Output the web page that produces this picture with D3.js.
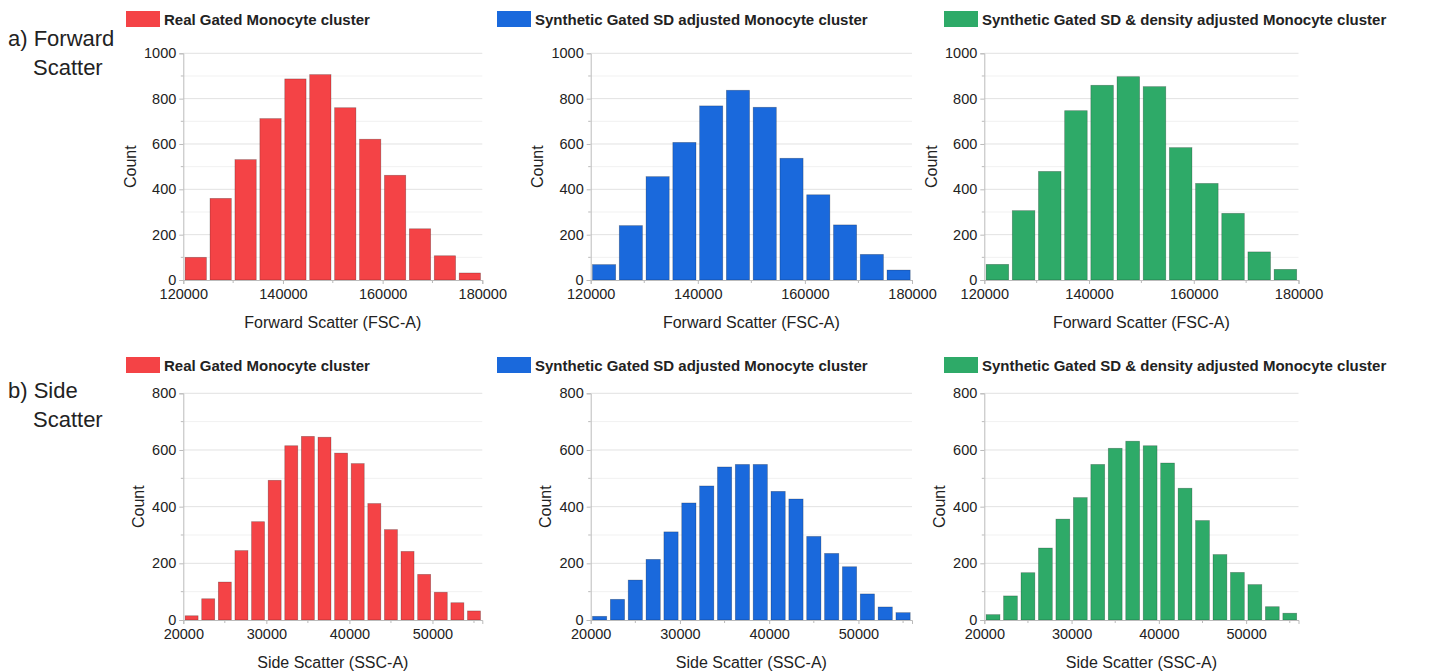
<!DOCTYPE html>
<html>
<head>
<meta charset="utf-8">
<script src="https://cdn.jsdelivr.net/npm/d3@7"></script>
<style>
  body { margin: 0; background: #fff; }
  svg text { font-family: "Liberation Sans", Arial, sans-serif; fill: #222; }
</style>
</head>
<body>
<div id="chart"></div>
<script>
// bin edges for the two measurements
var fscEdges = [120000, 125000, 130000, 135000, 140000, 145000, 150000, 155000, 160000, 165000, 170000, 175000, 180000];
var sscEdges = [20000, 22000, 24000, 26000, 28000, 30000, 32000, 34000, 36000, 38000, 40000, 42000, 44000, 46000, 48000, 50000, 52000, 54000, 56000];

var fscTicks = [120000, 140000, 160000, 180000];
var sscTicks = [20000, 30000, 40000, 50000];

// counts
var fscReal = [100, 360, 531, 712, 887, 906, 760, 621, 462, 226, 107, 31];
var fscSD = [68, 240, 456, 607, 768, 837, 762, 537, 376, 243, 113, 44];
var fscDensity = [69, 306, 479, 747, 859, 897, 853, 584, 426, 294, 124, 47];

var sscReal = [15, 75, 134, 245, 347, 493, 615, 648, 645, 589, 552, 411, 319, 242, 161, 98, 61, 32];
var sscSD = [13, 73, 141, 214, 311, 413, 473, 540, 549, 549, 454, 427, 295, 235, 188, 92, 46, 26];
var sscDensity = [19, 85, 167, 254, 356, 432, 549, 606, 631, 615, 554, 465, 351, 231, 168, 125, 47, 24];

var seriesNames = ["Real Gated Monocyte cluster", "Synthetic Gated SD adjusted Monocyte cluster", "Synthetic Gated SD & density adjusted Monocyte cluster"];
var seriesColors = ["#F44346", "#1A69DC", "#2EAA68"];

var svg = d3.select("#chart").append("svg")
  .attr("width", 1434)
  .attr("height", 671);

// panel columns (axis start / end) and rows
var cols = [[183.3, 482.3], [590.7, 912], [984.3, 1298.5]];
var rows = [
  { top: 53.3, bottom: 280, legendY: 11, yMax: 1000, yStep: 200, edges: fscEdges, ticks: fscTicks,
    title: "Forward Scatter (FSC-A)", data: [fscReal, fscSD, fscDensity], countOff: 53 },
  { top: 393.3, bottom: 620, legendY: 357, yMax: 800, yStep: 200, edges: sscEdges, ticks: sscTicks,
    title: "Side Scatter (SSC-A)", data: [sscReal, sscSD, sscDensity], countOff: 45 }
];

// row labels on the left
var rowLabels = [["a) Forward", "Scatter", 8, 46, 75], ["b) Side", "Scatter", 8, 398, 427]];
rowLabels.forEach(function(r) {
  svg.append("text").attr("x", r[2]).attr("y", r[3]).attr("font-size", "22px").text(r[0]);
  svg.append("text").attr("x", r[2] + 25).attr("y", r[4]).attr("font-size", "22px").text(r[1]);
});

rows.forEach(function(row) {
  cols.forEach(function(col, ci) {
    var edges = row.edges;
    var counts = row.data[ci];
    var x = d3.scaleLinear().domain([edges[0], edges[edges.length - 1]]).range(col);
    var y = d3.scaleLinear().domain([0, row.yMax]).range([row.bottom, row.top]);

    var g = svg.append("g");

    // legend
    g.append("rect")
      .attr("x", [126, 497, 944][ci])
      .attr("y", row.legendY)
      .attr("width", 34)
      .attr("height", 16)
      .attr("fill", seriesColors[ci]);
    g.append("text")
      .attr("x", [126, 497, 944][ci] + 38)
      .attr("y", row.legendY + 13.5)
      .attr("font-size", "15px")
      .attr("font-weight", "bold")
      .text(seriesNames[ci]);

    // gridlines, minor then major
    var minor = d3.range(row.yStep / 2, row.yMax, row.yStep);
    var major = d3.range(row.yStep, row.yMax + 1, row.yStep);
    g.selectAll(".minor").data(minor).enter().append("line")
      .attr("x1", col[0]).attr("x2", col[1])
      .attr("y1", d => y(d)).attr("y2", d => y(d))
      .attr("stroke", "#f1f1f1");
    g.selectAll(".major").data(major).enter().append("line")
      .attr("x1", col[0]).attr("x2", col[1])
      .attr("y1", d => y(d)).attr("y2", d => y(d))
      .attr("stroke", "#e2e2e2");

    // bars
    var bins = counts.map(function(c, i) { return { x0: edges[i], x1: edges[i + 1], count: c }; });
    g.selectAll(".bar").data(bins).enter().append("rect")
      .attr("x", d => x(d.x0) + 1.8)
      .attr("width", d => x(d.x1) - x(d.x0) - 3.6)
      .attr("y", d => y(d.count))
      .attr("height", d => y(0) - y(d.count))
      .attr("fill", seriesColors[ci])
      .attr("stroke", "rgba(0,0,0,0.3)")
      .attr("stroke-width", 0.7);

    // y axis
    var yAxis = g.append("g")
      .attr("transform", `translate(${col[0]},0)`)
      .call(d3.axisLeft(y).tickValues(d3.range(0, row.yMax + 1, row.yStep)).tickSize(4).tickPadding(3).tickFormat(d3.format("d")));
    yAxis.attr("font-family", null);
    yAxis.select(".domain").attr("stroke", "#bbb");
    yAxis.selectAll(".tick line").attr("stroke", "#bbb");
    yAxis.selectAll("text").attr("font-size", "14.5px").attr("fill", "#222");
    g.selectAll(".ymin").data(minor).enter().append("line")
      .attr("x1", col[0] - 2.5).attr("x2", col[0])
      .attr("y1", d => y(d)).attr("y2", d => y(d))
      .attr("stroke", "#bbb");

    // x axis
    var xAxis = g.append("g")
      .attr("transform", `translate(0,${row.bottom})`)
      .call(d3.axisBottom(x).tickValues(row.ticks).tickSize(4).tickPadding(5).tickFormat(d3.format("d")));
    xAxis.attr("font-family", null);
    xAxis.select(".domain").attr("stroke", "#bbb");
    xAxis.selectAll(".tick line").attr("stroke", "#bbb");
    xAxis.selectAll("text").attr("font-size", "14.5px").attr("fill", "#222");
    var half = (row.ticks[1] - row.ticks[0]) / 2;
    var xMinor = row.ticks.map(t => t + half).filter(v => v <= edges[edges.length - 1]);
    g.selectAll(".xmin").data(xMinor).enter().append("line")
      .attr("x1", d => x(d)).attr("x2", d => x(d))
      .attr("y1", row.bottom).attr("y2", row.bottom + 3)
      .attr("stroke", "#bbb");

    // axis titles
    g.append("text")
      .attr("x", (col[0] + col[1]) / 2)
      .attr("y", row.bottom + 48)
      .attr("text-anchor", "middle")
      .attr("font-size", "16px")
      .text(row.title);
    g.append("text")
      .attr("transform", `translate(${col[0] - row.countOff},${(row.top + row.bottom) / 2}) rotate(-90)`)
      .attr("dy", "0.35em")
      .attr("text-anchor", "middle")
      .attr("font-size", "16px")
      .text("Count");
  });
});
</script>
</body>
</html>
